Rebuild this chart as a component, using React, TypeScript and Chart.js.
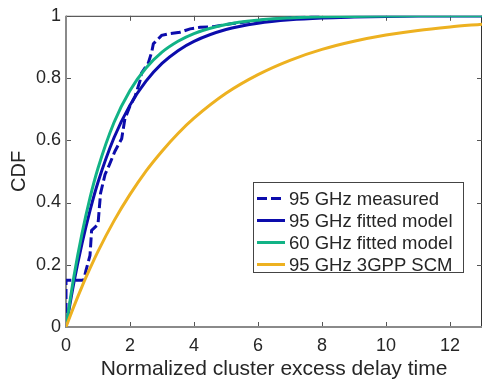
import React, { useEffect, useRef } from 'react';
import { Chart, registerables } from 'chart.js';

Chart.register(...registerables);

const xTicks = [0, 2, 4, 6, 8, 10, 12];
const yTicks = [0, 0.2, 0.4, 0.6, 0.8, 1];
const xMax = 13;
const seriesNames = ['95 GHz measured', '95 GHz fitted model', '60 GHz fitted model', '95 GHz 3GPP SCM'];

const measuredX = [0, 0, 0.55, 0.62, 0.75, 0.8, 1.0, 1.08, 1.22, 1.35, 1.53, 1.74, 1.84, 2.0, 2.16, 2.31, 2.36, 2.57, 2.68, 2.73, 2.99, 3.2, 3.56, 3.88, 4.19, 4.6, 5.2, 6.0, 7.0, 8.0];
const measuredY = [0, 0.15, 0.15, 0.18, 0.23, 0.31, 0.33, 0.43, 0.49, 0.52, 0.565, 0.605, 0.669, 0.71, 0.742, 0.79, 0.816, 0.848, 0.884, 0.91, 0.937, 0.942, 0.947, 0.958, 0.963, 0.965, 0.975, 0.985, 0.993, 1.0];

const modelX = [0, 0.25, 0.5, 0.75, 1, 1.5, 2, 2.5, 3, 3.5, 4, 5, 6, 7, 8, 9, 10, 11, 12, 13];
const fitted95Y = [0, 0.145, 0.268, 0.374, 0.465, 0.608, 0.713, 0.79, 0.847, 0.888, 0.918, 0.956, 0.976, 0.987, 0.993, 0.996, 0.998, 0.999, 0.9994, 0.9997];
const fitted60Y = [0, 0.164, 0.3, 0.415, 0.51, 0.657, 0.76, 0.832, 0.883, 0.918, 0.943, 0.972, 0.986, 0.993, 0.997, 0.998, 0.9992, 1.0, 1.0, 1.0];
const scm95Y = [0, 0.067, 0.13, 0.188, 0.243, 0.341, 0.426, 0.501, 0.565, 0.622, 0.671, 0.751, 0.811, 0.857, 0.892, 0.918, 0.938, 0.953, 0.964, 0.973];

const BLUE = '#0c0cac';
const GREEN = '#12b386';
const YELLOW = '#edb120';
const FONT = '"Liberation Sans", Arial, Helvetica, sans-serif';
const TEXT = '#262626';

const toPts = (xs: number[], ys: number[]) => xs.map((x, i) => ({ x, y: ys[i] }));

const axesPlugin = {
  id: 'matlabAxes',
  beforeDatasetsDraw(chart: any) {
    const { ctx, chartArea } = chart;
    const { left, right, top, bottom } = chartArea;
    const xs = chart.scales.x;
    const ys = chart.scales.y;
    ctx.save();
    ctx.strokeStyle = '#333333';
    ctx.lineWidth = 1;
    ctx.beginPath();
    ctx.moveTo(left, top + 0.5);
    ctx.lineTo(right, top + 0.5);
    ctx.moveTo(right - 0.5, top);
    ctx.lineTo(right - 0.5, bottom);
    ctx.stroke();
    ctx.strokeStyle = '#555555';
    ctx.beginPath();
    const tl = 5;
    xTicks.forEach((v) => {
      const px = Math.round(xs.getPixelForValue(v)) + 0.5;
      ctx.moveTo(px, bottom);
      ctx.lineTo(px, bottom - tl);
      ctx.moveTo(px, top);
      ctx.lineTo(px, top + tl);
    });
    yTicks.forEach((v) => {
      const py = Math.round(ys.getPixelForValue(v)) + 0.5;
      ctx.moveTo(left, py);
      ctx.lineTo(left + tl, py);
      ctx.moveTo(right, py);
      ctx.lineTo(right - tl, py);
    });
    ctx.stroke();
    ctx.strokeStyle = '#8a8a8a';
    ctx.lineWidth = 2;
    ctx.beginPath();
    ctx.moveTo(left, top);
    ctx.lineTo(left, bottom);
    ctx.lineTo(right, bottom);
    ctx.stroke();
    ctx.restore();
  },
  afterDatasetsDraw(chart: any) {
    const { ctx } = chart;
    const bx = 253, by = 182, bw = 210, bh = 90;
    ctx.save();
    ctx.fillStyle = '#ffffff';
    ctx.fillRect(bx, by, bw, bh);
    ctx.strokeStyle = '#444444';
    ctx.lineWidth = 1;
    ctx.strokeRect(bx + 0.5, by + 0.5, bw, bh);
    ctx.font = `18.5px ${FONT}`;
    ctx.textBaseline = 'middle';
    ctx.textAlign = 'left';
    chart.data.datasets.forEach((ds: any, i: number) => {
      const y = by + 16.5 + i * 22;
      ctx.strokeStyle = ds.borderColor;
      ctx.lineWidth = 3;
      ctx.setLineDash(ds.borderDash || []);
      ctx.beginPath();
      ctx.moveTo(257, y);
      ctx.lineTo(285, y);
      ctx.stroke();
      ctx.setLineDash([]);
      ctx.fillStyle = TEXT;
      ctx.fillText(ds.label, 289, y + 1);
    });
    ctx.restore();
  },
};

export default function App() {
  const ref = useRef<HTMLCanvasElement | null>(null);
  useEffect(() => {
    if (!ref.current) return;
    const chart = new Chart(ref.current, {
      type: 'line',
      data: {
        datasets: [
          {
            label: seriesNames[0],
            data: toPts(measuredX, measuredY),
            borderColor: BLUE,
            borderWidth: 3,
            borderDash: [10, 4],
            pointRadius: 0,
            tension: 0,
            order: 4,
          },
          {
            label: seriesNames[1],
            data: toPts(modelX, fitted95Y),
            borderColor: BLUE,
            borderWidth: 3,
            pointRadius: 0,
            cubicInterpolationMode: 'monotone',
            order: 3,
          },
          {
            label: seriesNames[2],
            data: toPts(modelX, fitted60Y),
            borderColor: GREEN,
            borderWidth: 3,
            pointRadius: 0,
            cubicInterpolationMode: 'monotone',
            order: 2,
          },
          {
            label: seriesNames[3],
            data: toPts(modelX, scm95Y),
            borderColor: YELLOW,
            borderWidth: 3,
            pointRadius: 0,
            cubicInterpolationMode: 'monotone',
            order: 1,
          },
        ],
      },
      options: {
        responsive: false,
        animation: false,
        layout: { padding: { top: 10, right: 0, left: 0, bottom: 0 } },
        plugins: { legend: { display: false }, tooltip: { enabled: false } },
        scales: {
          x: {
            type: 'linear',
            min: 0,
            max: xMax,
            grid: { display: false, drawTicks: false },
            border: { display: false },
            afterBuildTicks: (s: any) => {
              s.ticks = xTicks.map((v) => ({ value: v }));
            },
            afterFit: (s: any) => {
              s.height = 56;
            },
            ticks: {
              padding: 8,
              color: TEXT,
              font: { family: FONT, size: 18 },
              maxRotation: 0,
              callback: (v: any) => String(v),
            },
            title: {
              display: true,
              text: 'Normalized cluster excess delay time',
              color: TEXT,
              font: { family: FONT, size: 21 },
              padding: { top: 0, bottom: 1 },
            },
          },
          y: {
            type: 'linear',
            min: 0,
            max: 1,
            grid: { display: false, drawTicks: false },
            border: { display: false },
            afterBuildTicks: (s: any) => {
              s.ticks = yTicks.map((v) => ({ value: v }));
            },
            afterFit: (s: any) => {
              s.width = 66;
            },
            ticks: {
              padding: 5,
              color: TEXT,
              font: { family: FONT, size: 18 },
              callback: (v: any) => String(Number(Number(v).toFixed(1))),
            },
            title: {
              display: true,
              text: 'CDF',
              color: TEXT,
              font: { family: FONT, size: 20 },
              padding: { top: 7, bottom: 0 },
            },
          },
        },
      },
      plugins: [axesPlugin],
    } as any);
    return () => chart.destroy();
  }, []);
  return (
    <div style={{ position: 'absolute', left: 0, top: 0, width: 482, height: 383, background: '#fff' }}>
      <canvas ref={ref} width={482} height={383} style={{ display: 'block', width: 482, height: 383 }} />
    </div>
  );
}
